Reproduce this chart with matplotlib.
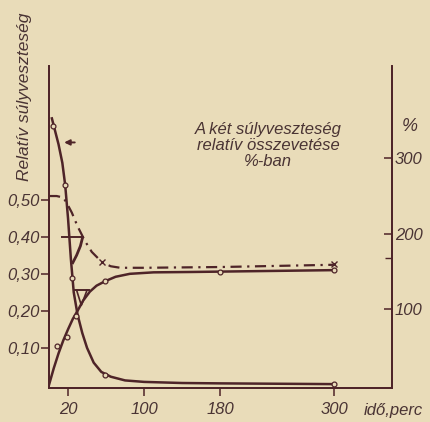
import numpy as np
import matplotlib.pyplot as plt

# time axis (perc) and the two relative weight-loss curves (left scale)
t_dec = [3, 6, 10, 14, 17, 20, 23, 26, 30, 35, 40, 47, 55, 65, 80, 100, 140, 180, 240, 300]
dec = [0.72, 0.69, 0.65, 0.60, 0.54, 0.45, 0.34, 0.25, 0.19, 0.14, 0.10, 0.06, 0.035, 0.022, 0.012, 0.008, 0.005, 0.004, 0.003, 0.002]
t_dec_pts = [4, 17, 24, 59, 300]
dec_pts = [0.70, 0.54, 0.29, 0.027, 0.002]

t_inc = [0, 5, 10, 15, 20, 25, 30, 36, 43, 50, 59, 70, 85, 110, 150, 180, 240, 300]
inc = [0.0, 0.045, 0.085, 0.12, 0.15, 0.178, 0.20, 0.228, 0.252, 0.268, 0.28, 0.292, 0.30, 0.304, 0.305, 0.306, 0.308, 0.31]
t_inc_pts = [8, 19, 28, 59, 180, 300]
inc_pts = [0.105, 0.13, 0.185, 0.28, 0.305, 0.31]

# comparison of the two losses, % (right scale)
t_cmp = [0, 8, 15, 19, 24, 30, 38, 45, 56, 65, 75, 100, 180, 300]
cmp_pct = [250, 250, 248, 240, 228, 210, 190, 176, 162, 157, 155, 155, 156, 159]
t_cmp_x = [56, 300]
cmp_x = [162, 160]

left_ticks = [0.10, 0.20, 0.30, 0.40, 0.50]
left_labels = ['0,10', '0,20', '0,30', '0,40', '0,50']
right_ticks = [100, 200, 300]
x_ticks = [20, 100, 180, 300]

paper = '#e9dcb9'
ink = '#4e2428'
txt = '#4a3434'

plt.rcParams['font.family'] = ['Liberation Sans', 'DejaVu Sans']
plt.rcParams['font.style'] = 'italic'

fig = plt.figure(figsize=(4.30, 4.22), dpi=100, facecolor=paper)
ax = fig.add_axes([0.114, 0.081, 0.798, 0.763])
ax.set_facecolor(paper)
ax2 = ax.twinx()

ax.plot(t_dec, dec, color=ink, lw=1.8)
ax.plot(t_dec_pts, dec_pts, 'o', ms=3.5, mfc=paper, mec=ink, mew=0.9)
ax.plot(t_inc, inc, color=ink, lw=1.8)
ax.plot(t_inc_pts, inc_pts, 'o', ms=3.5, mfc=paper, mec=ink, mew=0.9)

ax2.plot(t_cmp, cmp_pct, color=ink, lw=1.6, ls=(0, (5, 2.5, 1, 2.5)))
ax2.plot(t_cmp_x, cmp_x, 'x', ms=4, color=ink, mew=1.0)

# hand-drawn pointers
ax.annotate('', xy=(13, 0.655), xytext=(30, 0.655),
            arrowprops=dict(arrowstyle='-|>', color=ink, lw=1.4, mutation_scale=8))
ax.plot([14, 36], [0.40, 0.40], color=ink, lw=1.4)
ax.plot([25, 29, 33, 35], [0.33, 0.35, 0.375, 0.395], color=ink, lw=2.0)
ax.plot([27, 42], [0.256, 0.256], color=ink, lw=1.4)
ax.plot([29, 34, 40], [0.256, 0.215, 0.256], color=ink, lw=1.2)

ax.set_xlim(0, 361)
ax.set_ylim(-0.008, 0.862)
ax2.set_ylim(-0.008 * 490, 0.862 * 490)

for a in (ax, ax2):
    a.spines['top'].set_visible(False)
    for s in a.spines.values():
        s.set_color(ink)
        s.set_linewidth(1.3)

ax.set_xticks(x_ticks)
ax.set_xticklabels([str(v) for v in x_ticks])
ax.set_yticks(left_ticks)
ax.set_yticklabels(left_labels)
ax.tick_params(axis='both', colors=ink, labelcolor=txt, labelsize=12, length=6, width=1.1, pad=1)
ax.tick_params(axis='x', pad=4)
ax2.set_yticks(right_ticks)
ax2.set_yticks([168], minor=True)
ax2.tick_params(axis='y', direction='in', colors=ink, labelcolor=txt, labelsize=12, length=6, width=1.1, pad=2)
ax2.tick_params(axis='y', which='minor', direction='in', colors=ink, length=5, width=1.0)

fig.text(0.058, 0.77, 'Relatív súlyveszteség', rotation=90, ha='center', va='center',
         fontsize=12.5, color=txt)
fig.text(0.953, 0.70, '%', ha='center', va='center', fontsize=13, color=txt)
fig.text(0.915, 0.028, 'idő,perc', ha='center', va='center', fontsize=12, color=txt)
fig.text(0.623, 0.655, 'A két súlyveszteség\nrelatív összevetése\n%-ban', ha='center', va='center',
         fontsize=12, color=txt, linespacing=1.05)

fig.savefig('out.png', dpi=100, facecolor=paper)
